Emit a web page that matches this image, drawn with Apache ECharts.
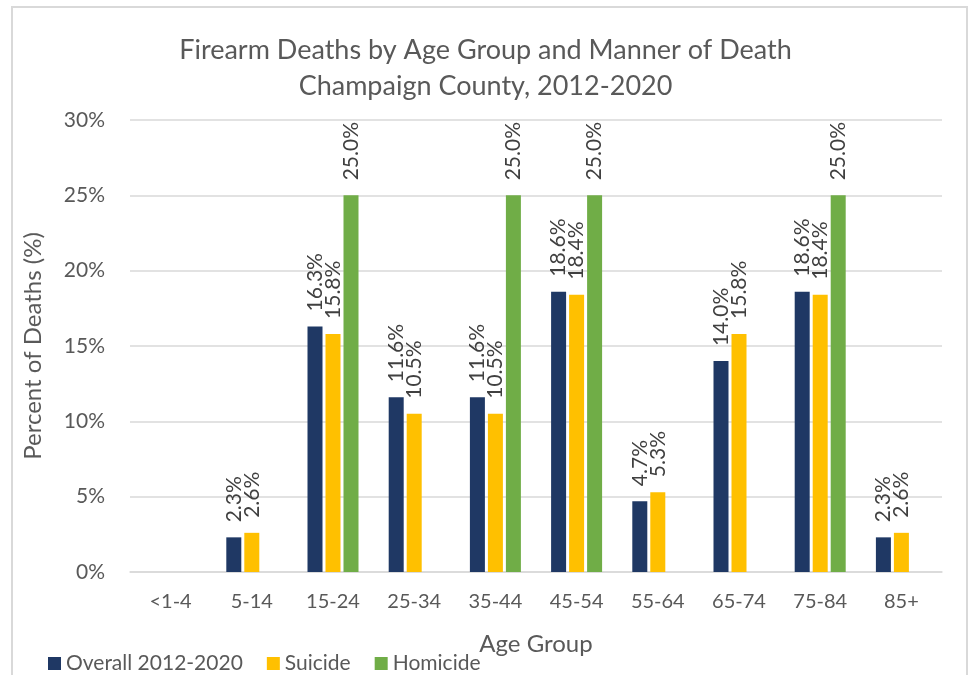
<!DOCTYPE html>
<html><head><meta charset="utf-8">
<script src="https://cdn.jsdelivr.net/npm/echarts@6/dist/echarts.min.js"></script>
<style>html,body{margin:0;padding:0;background:#fff}#c{width:971px;height:675px}</style>
</head><body><div id="c"></div>
<script>
const categories = ['<1-4','5-14','15-24','25-34','35-44','45-54','55-64','65-74','75-84','85+'];
const overall  = [null, 2.3, 16.3, 11.6, 11.6, 18.6, 4.7, 14.0, 18.6, 2.3];
const suicide  = [null, 2.6, 15.8, 10.5, 10.5, 18.4, 5.3, 15.8, 18.4, 2.6];
const homicide = [null, null, 25.0, null, 25.0, 25.0, null, null, 25.0, null];
const yTicks = [0, 5, 10, 15, 20, 25, 30];

const FONT = 'Lato';
const chart = echarts.init(document.getElementById('c'));
const lbl = {
  show: true, position: 'top', rotate: 90, align: 'left', verticalAlign: 'middle',
  distance: 15, fontFamily: FONT, fontSize: 21, color: '#404040',
  formatter: p => p.value == null ? '' : Number(p.value).toFixed(1) + '%'
};
function mk(name, data, color) {
  return { name, type: 'bar', data, barWidth: 15, barGap: '20%',
    itemStyle: { color }, label: lbl };
}
chart.setOption({
  animation: false,
  textStyle: { fontFamily: FONT },
  title: {
    text: 'Firearm Deaths by Age Group and Manner of Death\nChampaign County, 2012-2020',
    left: 'center', top: 27,
    textStyle: { fontFamily: FONT, fontSize: 27, fontWeight: 'normal', color: '#595959', lineHeight: 36 }
  },
  graphic: [{ type: 'rect', shape: { x: 12, y: 7, width: 955, height: 720 },
    style: { fill: 'none', stroke: '#d9d9d9', lineWidth: 2 }, silent: true }],
  legend: {
    left: 43, top: 648, itemWidth: 13, itemHeight: 13, itemGap: 24, icon: 'rect',
    textStyle: { fontFamily: FONT, fontSize: 21, color: '#595959' },
    data: ['Overall 2012-2020', 'Suicide', 'Homicide']
  },
  grid: { left: 130, right: 29, top: 120, bottom: 103 },
  xAxis: {
    type: 'category', data: categories,
    name: 'Age Group', nameLocation: 'middle', nameGap: 60,
    nameTextStyle: { fontFamily: FONT, fontSize: 24, color: '#595959' },
    axisLine: { lineStyle: { color: '#d9d9d9', width: 1.5 } }, axisTick: { show: false },
    axisLabel: { fontFamily: FONT, fontSize: 20, color: '#595959', margin: 20 }
  },
  yAxis: {
    type: 'value', min: yTicks[0], max: yTicks[yTicks.length - 1], interval: 5,
    name: 'Percent of Deaths (%)', nameLocation: 'middle', nameGap: 85,
    nameTextStyle: { fontFamily: FONT, fontSize: 24, color: '#595959' },
    axisLabel: { fontFamily: FONT, fontSize: 21, color: '#595959', margin: 25, formatter: v => v + '%' },
    splitLine: { lineStyle: { color: '#d9d9d9', width: 1.5 } },
    axisLine: { show: false }, axisTick: { show: false }
  },
  series: [
    mk('Overall 2012-2020', overall, '#1f3864'),
    mk('Suicide', suicide, '#ffc000'),
    mk('Homicide', homicide, '#70ad47')
  ]
});
</script></body></html>
